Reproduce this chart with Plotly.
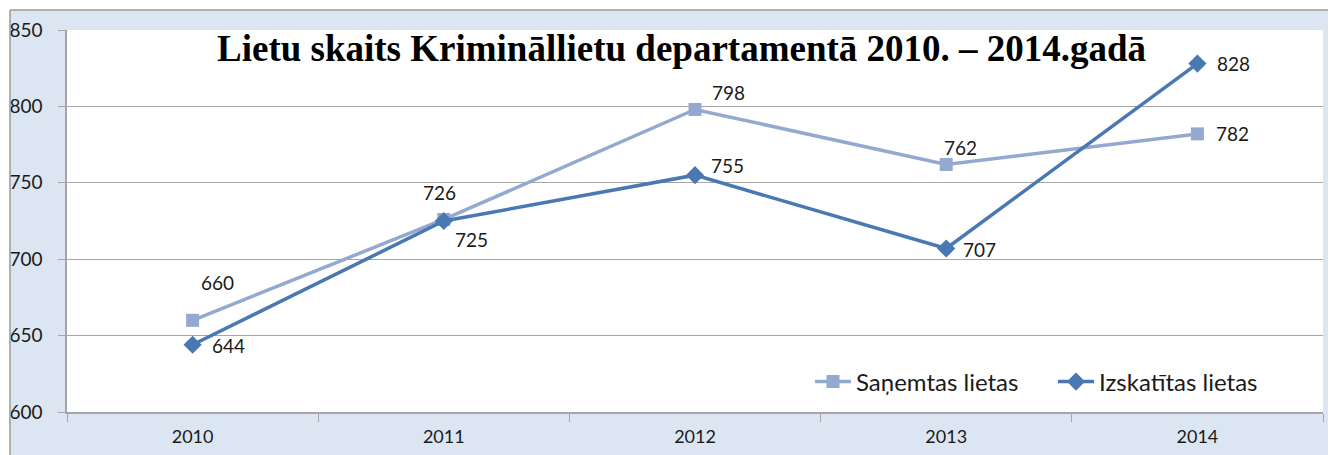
import plotly.graph_objects as go

# Data
years = ["2010", "2011", "2012", "2013", "2014"]
sanemtas = [660, 726, 798, 762, 782]
izskatitas = [644, 725, 755, 707, 828]

SERIES_NAMES = ["Saņemtas lietas", "Izskatītas lietas"]
TITLE = "Lietu skaits Krimināllietu departamentā 2010. – 2014.gadā"

LIGHT = "#94a9d0"
DARK = "#4a78b2"
BG = "#dce6f2"
GRID = "#a6a6a6"
FONT = "Lato"

W, H = 1336, 455
OFF = 8  # the page body adds an 8px margin, so shift everything back
L, T = 67 - OFF, 30 - OFF
R, B = W - (1323 - OFF), H - (412 - OFF)

# label offsets (pixels) per point
light_offsets = [(25, 38), (-4, 27), (33, 17), (14, 17), (35, 0)]
dark_offsets = [(36, -1), (28, -18), (32, 10), (33, -1), (36, 0)]

fig = go.Figure()
fig.add_trace(go.Scatter(
    x=years, y=sanemtas, name=SERIES_NAMES[0], mode="lines+markers",
    line=dict(color=LIGHT, width=3.5),
    marker=dict(symbol="square", size=13, color=LIGHT),
))
fig.add_trace(go.Scatter(
    x=years, y=izskatitas, name=SERIES_NAMES[1], mode="lines+markers",
    line=dict(color=DARK, width=3.5),
    marker=dict(symbol="diamond", size=14, color=DARK),
))

for series, offs in ((sanemtas, light_offsets), (izskatitas, dark_offsets)):
    for i, (v, (dx, dy)) in enumerate(zip(series, offs)):
        fig.add_annotation(
            x=i, y=v, text=str(v), showarrow=False,
            xshift=dx, yshift=dy,
            font=dict(family=FONT, size=19, color="#1a1a1a"),
        )

pw, ph = W - L - R, H - T - B
def px_x(p):
    # reference pixel -> paper coordinate
    return (p - OFF - L) / pw
def px_y(p):
    return (H - B - (p - OFF)) / ph

# title sits inside the plot area
fig.add_annotation(
    x=px_x(681), y=px_y(49), xref="paper", yref="paper",
    text="<b>" + TITLE + "</b>",
    showarrow=False, xanchor="center", yanchor="middle",
    font=dict(family="Liberation Serif", size=37, color="black"),
)

# white strips + gray border round the outer chart frame
fig.add_shape(type="rect", xref="paper", yref="paper",
              x0=px_x(0), x1=px_x(W + 20), y0=px_y(10), y1=px_y(0),
              fillcolor="white", line_width=0)
fig.add_shape(type="rect", xref="paper", yref="paper",
              x0=px_x(0), x1=px_x(10), y0=px_y(H + 20), y1=px_y(0),
              fillcolor="white", line_width=0)
fig.add_shape(type="line", xref="paper", yref="paper",
              x0=px_x(10), x1=px_x(W + 20), y0=px_y(10), y1=px_y(10),
              line=dict(color="#9a9a9a", width=1.5))
fig.add_shape(type="line", xref="paper", yref="paper",
              x0=px_x(10), x1=px_x(10), y0=px_y(10), y1=px_y(H + 20),
              line=dict(color="#9a9a9a", width=1.5))

fig.update_layout(
    width=W, height=H,
    margin=dict(l=L, r=R, t=T, b=B, autoexpand=False),
    paper_bgcolor=BG, plot_bgcolor="white",
    font=dict(family=FONT, color="#1a1a1a"),
    showlegend=True,
    legend=dict(
        orientation="h", x=px_x(810), y=px_y(382), xanchor="left", yanchor="middle",
        bgcolor="rgba(0,0,0,0)", font=dict(family=FONT, size=24),
        itemwidth=36, entrywidth=192,
    ),
    xaxis=dict(
        type="category", range=[-0.5, 4.5], showgrid=False, automargin=False,
        showline=True, linecolor=GRID, linewidth=1.5,
        ticks="outside", tickson="boundaries", ticklen=8, tickcolor=GRID,
        tickfont=dict(size=18), ticklabelstandoff=8,
    ),
    yaxis=dict(
        range=[600, 850], dtick=50, showgrid=True, gridcolor=GRID, gridwidth=1.2,
        showline=True, linecolor=GRID, linewidth=1.5, zeroline=False, automargin=False,
        ticks="outside", ticklen=7, tickcolor=GRID,
        tickfont=dict(size=19), ticklabelstandoff=12,
    ),
)

fig.write_html("out.html")
